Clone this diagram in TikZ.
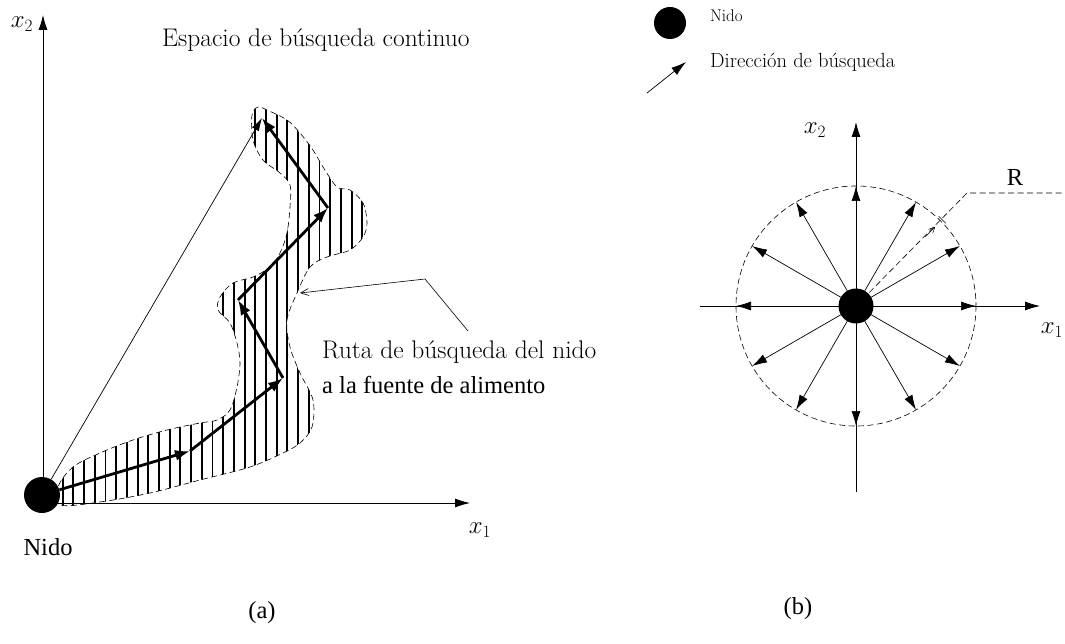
\documentclass[tikz,border=0pt]{standalone}
\usepackage{fontspec}
\newfontfamily\tms{Liberation Serif}
\usetikzlibrary{arrows.meta}
\begin{document}
\begin{tikzpicture}[x=1pt,y=-1pt,
  ax/.style={line width=0.8pt,-{Latex[length=15pt,width=9pt]}},
  thk/.style={line width=2.8pt,-{Latex[length=15pt,width=11pt]}},
  rad/.style={line width=0.7pt,-{Latex[length=15pt,width=9pt]}},
  thinarrow/.style={line width=0.7pt,-{Latex[length=13pt,width=8pt]}},
  nest/.style={circle,fill=black,inner sep=0pt,minimum size=36pt},
  lmtext/.style={font=\fontsize{25.5}{30}\selectfont,inner sep=0pt},
  mathtext/.style={font=\fontsize{24}{28}\selectfont,inner sep=0pt},
  tmtext/.style={font=\tms\fontsize{24.5}{28}\selectfont,inner sep=0pt},
  hatch/.style={line width=1.9pt},
  outline/.style={line width=0.6pt,dash pattern=on 6pt off 3.5pt}]
\useasboundingbox (0,0) rectangle (1065,644);

% ---------------- panel (a) ----------------
\coordinate (o) at (43,503);
\coordinate (x2top) at (43,15);
\coordinate (x1end) at (470,503);
\draw[ax] (o) -- (x2top);
\draw[ax] (o) -- (x1end);
\node[mathtext] (lx2a) at (22,24) {$x_2$};
\node[mathtext] (lx1a) at (480,530) {$x_1$};

% hatched region
\begin{scope}
\clip plot[smooth cycle, tension=0.55] coordinates {
(60,505) (100,502) (150,493) (200,480) (250,467) (283,453) (300,443) (312,427)
(313,400) (300,373) (290,347) (287,320) (297,293) (310,267) (327,257)
(350,250) (363,237) (367,223) (363,203) (350,190) (337,187) (323,167) (313,150)
(300,133) (287,120) (267,110) (258,107) (252,115) (253,140) (263,160) (280,173)
(290,185) (290,207) (287,233) (280,253) (270,267) (253,277) (233,283) (220,297)
(218,310) (230,323) (237,343) (240,363) (237,387) (230,410) (217,420) (200,423)
(167,430) (133,440) (100,453) (73,467) (58,487)};
\foreach \x in {52,62.7,...,372} \draw[hatch] (\x,95) -- (\x,515);
\end{scope}
\draw[outline] plot[smooth cycle, tension=0.55] coordinates {
(60,505) (100,502) (150,493) (200,480) (250,467) (283,453) (300,443) (312,427)
(313,400) (300,373) (290,347) (287,320) (297,293) (310,267) (327,257)
(350,250) (363,237) (367,223) (363,203) (350,190) (337,187) (323,167) (313,150)
(300,133) (287,120) (267,110) (258,107) (252,115) (253,140) (263,160) (280,173)
(290,185) (290,207) (287,233) (280,253) (270,267) (253,277) (233,283) (220,297)
(218,310) (230,323) (237,343) (240,363) (237,387) (230,410) (217,420) (200,423)
(167,430) (133,440) (100,453) (73,467) (58,487)};

\node[nest] (nestA) at (42,495) {};
\coordinate (p1) at (190,451);
\coordinate (p2) at (283,378);
\coordinate (p3) at (238,300);
\coordinate (p4) at (328,208);
\coordinate (p5) at (262,118);
\draw[thinarrow] (nestA) -- (p5);
\draw[thk] (nestA) -- (p1);
\draw[thk] (p1) -- (p2);
\draw[thk] (p2) -- (p3);
\draw[thk] (p3) -- (p4);
\draw[thk] (p4) -- (p5);

\node[lmtext,anchor=base west] (title) at (162,47) {Espacio de búsqueda continuo};
\node[lmtext,anchor=base west] (ruta) at (322,358) {Ruta de búsqueda del nido};
\node[tmtext,anchor=base west] (fuente) at (322,393) {a la fuente de alimento};
\coordinate (ce) at (468,331);
\coordinate (cb) at (425,279);
\coordinate (ct) at (300,293);
\draw[line width=0.6pt,-{Straight Barb[length=8pt,width=7pt]}] (ce) -- (cb) -- (ct);
\node[tmtext,anchor=base] (nidoA) at (48,555) {Nido};
\node[tmtext,anchor=base] (capa) at (262,618) {(a)};

% ---------------- panel (b) ----------------
\node[nest,minimum size=32pt] (nestL) at (670,23) {};
\node[anchor=base west,inner sep=0pt,font=\fontsize{17}{20}\selectfont] (lnido) at (710,22) {Nido};
\coordinate (la0) at (647,93);
\coordinate (la1) at (686,62);
\draw[rad] (la0) -- (la1);
\node[anchor=base west,inner sep=0pt,font=\fontsize{20.5}{24}\selectfont] (ldir) at (710,68) {Dirección de búsqueda};

\coordinate (c) at (856,306);
\coordinate (vb) at (856,492);
\coordinate (vt) at (856,122);
\coordinate (hl) at (700,306);
\coordinate (hr) at (1040,306);
\draw[ax] (vb) -- (vt);
\draw[ax] (hl) -- (hr);
\node[mathtext] (lx2b) at (815,130) {$x_2$};
\node[mathtext] (lx1b) at (1052,330) {$x_1$};
\draw[outline] (c) circle[radius=120];
\foreach \a in {0,30,...,330} {
  \coordinate (e\a) at ([shift={(\a:120)}]c);
  \draw[rad] (c) -- (e\a);
}
\coordinate (rb) at (967,193);
\coordinate (re) at (1065,193);
\draw[outline] (c) -- (rb) -- (re);
\coordinate (m0) at ([shift={(-45:98)}]c);
\coordinate (m1) at ([shift={(-45:112)}]c);
\draw[line width=0.5pt,-{Straight Barb[length=6pt,width=6pt]}] (m0) -- (m1);
\coordinate (t0) at ([shift={(-45:122)}]c);
\draw[line width=0.5pt] ([shift={(45:5)}]t0) -- ([shift={(225:5)}]t0);
\node[nest,minimum size=35pt] (nestB) at (c) {};
\node[tmtext] (lR) at (1015,177) {R};
\node[tmtext,anchor=base] (capb) at (798,614) {(b)};
\end{tikzpicture}
\end{document}
